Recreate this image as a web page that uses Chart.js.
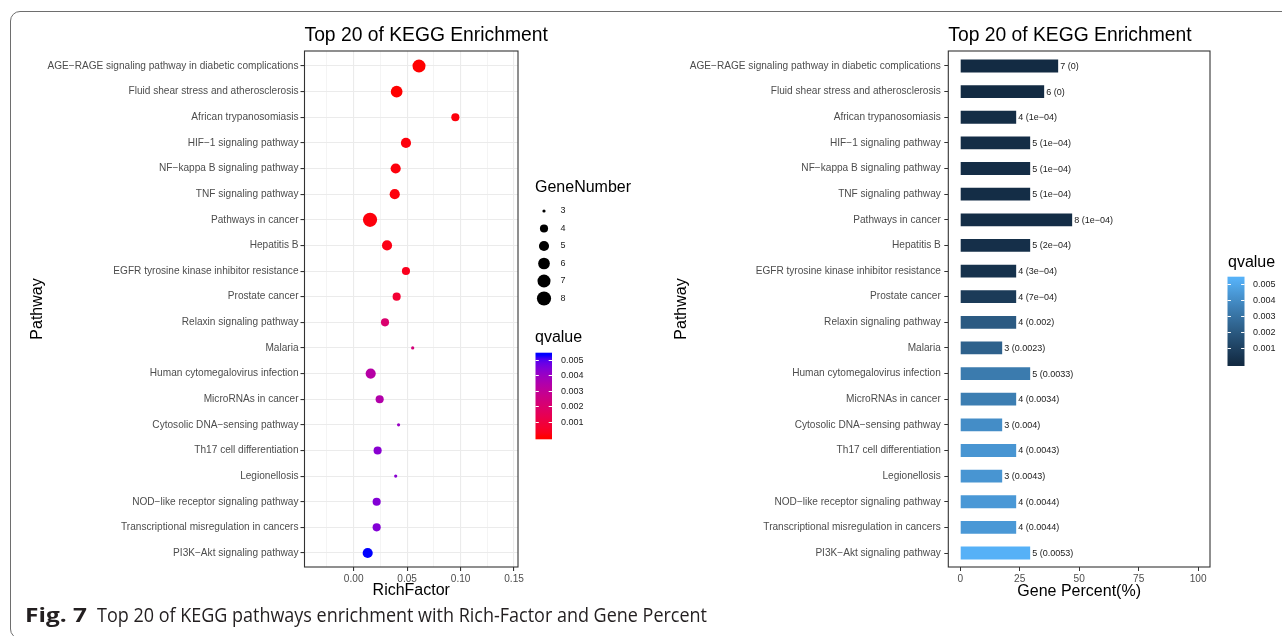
<!DOCTYPE html>
<html>
<head>
<meta charset="utf-8">
<script src="https://cdn.jsdelivr.net/npm/chart.js@4.4.1/dist/chart.umd.min.js"></script>
<style>
  html, body { margin: 0; padding: 0; background: #fff; }
  #page { position: relative; width: 1282px; height: 636px; overflow: hidden; background: #fff; }
  #frame { position: absolute; left: 10px; top: 11px; width: 1300px; height: 628px; box-sizing: border-box;
           border: 1.4px solid #6e6e6e; border-radius: 10px; }
  canvas { position: absolute; top: 0; }
  #richChart { left: 0; }
  #percentChart { left: 640px; }
  .cap { position: absolute; top: 605px; font-family: "Open Sans", "Noto Sans", sans-serif; font-size: 20px;
         line-height: 20px; color: #231f20; white-space: nowrap; transform-origin: 0 0; }
</style>
</head>
<body>
<div id="page">
<div id="frame"></div>
<canvas id="richChart" width="640" height="636"></canvas>
<canvas id="percentChart" width="642" height="636"></canvas>
<div class="cap" id="capFig" style="left:25px; font-weight:700;">Fig. 7</div>
<div class="cap" id="capText" style="left:97px;">Top 20 of KEGG pathways enrichment with Rich-Factor and Gene Percent</div>
</div>
<script>
// ---- data ----
const pathways = [
  "AGE\u2212RAGE signaling pathway in diabetic complications",
  "Fluid shear stress and atherosclerosis",
  "African trypanosomiasis",
  "HIF\u22121 signaling pathway",
  "NF\u2212kappa B signaling pathway",
  "TNF signaling pathway",
  "Pathways in cancer",
  "Hepatitis B",
  "EGFR tyrosine kinase inhibitor resistance",
  "Prostate cancer",
  "Relaxin signaling pathway",
  "Malaria",
  "Human cytomegalovirus infection",
  "MicroRNAs in cancer",
  "Cytosolic DNA\u2212sensing pathway",
  "Th17 cell differentiation",
  "Legionellosis",
  "NOD\u2212like receptor signaling pathway",
  "Transcriptional misregulation in cancers",
  "PI3K\u2212Akt signaling pathway"
];
const richFactor = [0.0611, 0.0402, 0.0951, 0.0489, 0.0393, 0.0384, 0.0153, 0.0312, 0.0489, 0.0402,
                    0.0293, 0.0552, 0.0159, 0.0243, 0.0420, 0.0224, 0.0393, 0.0215, 0.0215, 0.0131];
const geneNumber = [7, 6, 4, 5, 5, 5, 8, 5, 4, 4, 4, 3, 5, 4, 3, 4, 3, 4, 4, 5];
const qvalue = [0, 0, 1e-4, 1e-4, 1e-4, 1e-4, 1e-4, 2e-4, 3e-4, 7e-4,
                0.002, 0.0023, 0.0033, 0.0034, 0.004, 0.0043, 0.0043, 0.0044, 0.0044, 0.0053];
const geneTotal = 17;                       // genes in the query set (denominator of Gene Percent)
const richMajorTicks = [0, 0.05, 0.10, 0.15];
const richMinorTicks = [-0.025, 0.025, 0.075, 0.125];
const percentTicks = [0, 25, 50, 75, 100];
const qLegendTicks = [0.001, 0.002, 0.003, 0.004, 0.005];
const sizeLegendValues = [3, 4, 5, 6, 7, 8];

const genePercent = geneNumber.map(n => n / geneTotal * 100);

// ---- helpers ----
const FONT = '"Liberation Sans", Arial, Helvetica, sans-serif';
Chart.defaults.font.family = FONT;

function hexToRgb(h) { return [1, 3, 5].map(i => parseInt(h.slice(i, i + 2), 16)); }
function rgbToLab(rgb) {
  const lin = c => { c /= 255; return c <= 0.04045 ? c / 12.92 : Math.pow((c + 0.055) / 1.055, 2.4); };
  const [R, G, B] = rgb.map(lin);
  const X = (0.4124564 * R + 0.3575761 * G + 0.1804375 * B) / 0.95047;
  const Y = (0.2126729 * R + 0.7151522 * G + 0.0721750 * B);
  const Z = (0.0193339 * R + 0.1191920 * G + 0.9503041 * B) / 1.08883;
  const f = t => t > 0.008856 ? Math.cbrt(t) : (7.787 * t + 16 / 116);
  const fx = f(X), fy = f(Y), fz = f(Z);
  return [116 * fy - 16, 500 * (fx - fy), 200 * (fy - fz)];
}
function labToRgb(lab) {
  const [L, a, b] = lab;
  const fy = (L + 16) / 116, fx = fy + a / 500, fz = fy - b / 200;
  const finv = t => (t * t * t > 0.008856) ? t * t * t : (t - 16 / 116) / 7.787;
  const X = finv(fx) * 0.95047, Y = finv(fy), Z = finv(fz) * 1.08883;
  const R = 3.2404542 * X - 1.5371385 * Y - 0.4985314 * Z;
  const G = -0.9692660 * X + 1.8760108 * Y + 0.0415560 * Z;
  const B = 0.0556434 * X - 0.2040259 * Y + 1.0572252 * Z;
  const gam = c => { c = c <= 0.0031308 ? 12.92 * c : 1.055 * Math.pow(Math.max(c, 0), 1 / 2.4) - 0.055;
                     return Math.round(Math.min(1, Math.max(0, c)) * 255); };
  return `rgb(${gam(R)},${gam(G)},${gam(B)})`;
}
// two-colour gradient interpolated in CIELAB
function labRamp(lo, hi) {
  const A = rgbToLab(hexToRgb(lo)), B = rgbToLab(hexToRgb(hi));
  return t => { t = Math.min(1, Math.max(0, t)); return labToRgb(A.map((v, i) => v + (B[i] - v) * t)); };
}
const qMin = Math.min(...qvalue), qMax = Math.max(...qvalue);
const qNorm = q => (q - qMin) / (qMax - qMin);
const redBlue = labRamp('#FF0000', '#0000FF');
const navySky = labRamp('#132B43', '#56B1F7');

// point radius: area-proportional size scale (1..6) converted to pixels
const nMin = Math.min(...geneNumber), nMax = Math.max(...geneNumber);
function pointRadius(n) {
  const size = 1 + 5 * Math.sqrt((n - nMin) / (nMax - nMin));
  return 1.1 * size + 0.5;
}

// R-style number printing: scientific only when it is shorter
function fmtQ(q) {
  if (q === 0) return '0';
  const fixed = String(q);
  const [m, e] = q.toExponential().split('e');
  const ex = parseInt(e, 10);
  const sci = m + 'e' + (ex < 0 ? '-' : '+') + String(Math.abs(ex)).padStart(2, '0');
  return (sci.length < fixed.length ? sci : fixed).replace(/-/g, '\u2212');
}

// colour bar legend (ggplot-style, 20 bins)
function drawColourBar(ctx, x, top, w, h, ramp, labelX) {
  const nbin = 20;
  const step = (qMax - qMin) / (nbin - 1);
  const lo = qMin - step / 2, hi = qMax + step / 2;
  const bottom = top + h;
  const g = ctx.createLinearGradient(0, bottom, 0, top);
  g.addColorStop(0, ramp(0));
  for (let k = 0; k < nbin; k++) g.addColorStop((k + 0.5) / nbin, ramp(k / (nbin - 1)));
  g.addColorStop(1, ramp(1));
  ctx.fillStyle = g;
  ctx.fillRect(x, top, w, h);
  ctx.font = '9px ' + FONT;
  ctx.textAlign = 'left';
  ctx.textBaseline = 'middle';
  qLegendTicks.forEach(v => {
    const y = Math.round(bottom - (v - lo) / (hi - lo) * h) + 0.5;
    ctx.strokeStyle = '#ffffff';
    ctx.lineWidth = 1;
    ctx.beginPath();
    ctx.moveTo(x, y); ctx.lineTo(x + w / 5, y);
    ctx.moveTo(x + w - w / 5, y); ctx.lineTo(x + w, y);
    ctx.stroke();
    ctx.fillStyle = '#1a1a1a';
    ctx.fillText(String(v), labelX, y);
  });
}

// panel frame, title and legends
const panelDecor = {
  id: 'panelDecor',
  afterDatasetsDraw(chart, args, opts) {
    const { ctx, chartArea: a } = chart;
    ctx.save();
    ctx.strokeStyle = '#333333';
    ctx.lineWidth = 1.1;
    ctx.strokeRect(a.left, a.top, a.right - a.left, a.bottom - a.top);
    ctx.restore();
  },
  afterDraw(chart, args, opts) {
    const { ctx, chartArea: a } = chart;
    ctx.save();
    ctx.fillStyle = '#000';
    ctx.font = '19.3px ' + FONT;
    ctx.textAlign = 'left';
    ctx.textBaseline = 'alphabetic';
    ctx.fillText(opts.title, a.left, 41);
    if (opts.drawLegend) opts.drawLegend(ctx);
    ctx.restore();
  }
};

function legendTitle(ctx, text, x, y) {
  ctx.fillStyle = '#000';
  ctx.font = '16px ' + FONT;
  ctx.textAlign = 'left';
  ctx.textBaseline = 'alphabetic';
  ctx.fillText(text, x, y);
}

// count and q-value printed at the end of each bar
const barLabels = {
  id: 'barLabels',
  afterDatasetsDraw(chart) {
    const { ctx } = chart;
    const meta = chart.getDatasetMeta(0);
    ctx.save();
    ctx.font = '9px ' + FONT;
    ctx.fillStyle = '#1a1a1a';
    ctx.textAlign = 'left';
    ctx.textBaseline = 'middle';
    meta.data.forEach((el, i) => {
      ctx.fillText(`${geneNumber[i]} (${fmtQ(qvalue[i])})`, el.x + 2, el.y + 0.5);
    });
    ctx.restore();
  }
};

const tickFont = { size: 10.1, family: FONT };
const axisTitleFont = { size: 16, family: FONT };

// shared pathway axis: one row per pathway, first pathway at the top
function pathwayAxis(width, labelPad) {
  return {
    type: 'linear',
    reverse: true,
    offset: false,
    min: -0.585, max: 19.546,
    afterBuildTicks(scale) { scale.ticks = pathways.map((p, i) => ({ value: i })); },
    afterFit(scale) { scale.width = width; },
    ticks: {
      autoSkip: false, padding: labelPad, color: '#4d4d4d', font: tickFont,
      callback(v) { return pathways[v]; }
    },
    border: { display: false },
    title: { display: true, text: 'Pathway', color: '#000', font: axisTitleFont, padding: { top: 0, bottom: 0 } }
  };
}

// ---- RichFactor bubble chart ----
const richY = pathwayAxis(276.5, 2);
richY.grid = { color: '#ebebeb', lineWidth: 1.1, tickColor: '#333333', tickLength: 4, offset: false };

new Chart(document.getElementById('richChart'), {
  type: 'bubble',
  data: {
    datasets: [{
      data: pathways.map((p, i) => ({ x: richFactor[i], y: i, r: pointRadius(geneNumber[i]) })),
      backgroundColor: qvalue.map(q => redBlue(qNorm(q))),
      borderWidth: 0,
      hoverBorderWidth: 0
    }]
  },
  options: {
    responsive: false,
    devicePixelRatio: 1,
    animation: false,
    events: [],
    clip: false,
    layout: { padding: { left: 28, top: 51, right: 122, bottom: 34 } },
    plugins: {
      legend: { display: false },
      tooltip: { enabled: false },
      panelDecor: {
        title: 'Top 20 of KEGG Enrichment',
        drawLegend(ctx) {
          legendTitle(ctx, 'GeneNumber', 535, 192);
          sizeLegendValues.forEach((n, k) => {
            const y = 211 + k * 17.5;
            ctx.fillStyle = '#000';
            ctx.beginPath();
            ctx.arc(544, y, pointRadius(n), 0, Math.PI * 2);
            ctx.fill();
            ctx.font = '9px ' + FONT;
            ctx.fillStyle = '#1a1a1a';
            ctx.textBaseline = 'middle';
            ctx.fillText(String(n), 560.5, y);
          });
          legendTitle(ctx, 'qvalue', 535, 342);
          drawColourBar(ctx, 535.5, 352.7, 16.5, 86.6, redBlue, 561);
        }
      }
    },
    scales: {
      x: {
        type: 'linear',
        min: -0.046, max: 0.1537,
        afterBuildTicks(scale) {
          scale.ticks = [...richMinorTicks.map(v => ({ value: v, minor: true })),
                         ...richMajorTicks.map(v => ({ value: v, minor: false }))]
                        .sort((a, b) => a.value - b.value);
        },
        afterFit(scale) { scale.height = 35; },
        ticks: {
          autoSkip: false, maxRotation: 0, padding: 2, color: '#4d4d4d', font: tickFont,
          callback(v, i, ticks) { return ticks[i].minor ? '' : v.toFixed(2); }
        },
        grid: {
          color: '#ebebeb',
          lineWidth: c => (c.tick && c.tick.minor) ? 0.55 : 1.1,
          tickColor: c => (c.tick && c.tick.minor) ? 'rgba(0,0,0,0)' : '#333333',
          tickLength: 4,
          drawOnChartArea: true
        },
        border: { display: false },
        title: { display: true, text: 'RichFactor', color: '#000', font: axisTitleFont, padding: { top: 0, bottom: 1.5 } }
      },
      y: richY
    }
  },
  plugins: [panelDecor]
});

// ---- Gene Percent bar chart ----
const percentY = pathwayAxis(308.3 - 32.4, 3.5);
percentY.grid = { drawOnChartArea: false, offset: false, tickColor: '#333333', tickLength: 4 };

new Chart(document.getElementById('percentChart'), {
  type: 'bar',
  data: {
    datasets: [{
      data: pathways.map((p, i) => ({ x: genePercent[i], y: i })),
      backgroundColor: qvalue.map(q => navySky(qNorm(q))),
      borderWidth: 0,
      barPercentage: 0.5,
      categoryPercentage: 1
    }]
  },
  options: {
    indexAxis: 'y',
    responsive: false,
    devicePixelRatio: 1,
    animation: false,
    events: [],
    layout: { padding: { left: 32.4, top: 51, right: 72, bottom: 34 } },
    plugins: {
      legend: { display: false },
      tooltip: { enabled: false },
      panelDecor: {
        title: 'Top 20 of KEGG Enrichment',
        drawLegend(ctx) {
          legendTitle(ctx, 'qvalue', 588, 267);
          drawColourBar(ctx, 587.5, 276.7, 17, 89.3, navySky, 613);
        }
      }
    },
    scales: {
      x: {
        type: 'linear',
        min: -5, max: 105,
        afterBuildTicks(scale) { scale.ticks = percentTicks.map(v => ({ value: v })); },
        afterFit(scale) { scale.height = 35; },
        ticks: { autoSkip: false, maxRotation: 0, padding: 2, color: '#4d4d4d', font: tickFont,
                 callback(v) { return String(v); } },
        grid: { drawOnChartArea: false, tickColor: '#333333', tickLength: 4 },
        border: { display: false },
        title: { display: true, text: 'Gene Percent(%)', color: '#000', font: axisTitleFont, padding: { top: 0, bottom: 0.5 } }
      },
      y: percentY
    }
  },
  plugins: [panelDecor, barLabels]
});

// caption: fit each run of text to its measured span
function fitCaption() {
  [['capFig', 62], ['capText', 610]].forEach(([id, target]) => {
    const el = document.getElementById(id);
    el.style.transform = 'none';
    const w = el.getBoundingClientRect().width;
    if (w > 0) el.style.transform = `scaleX(${target / w})`;
  });
}
fitCaption();
if (document.fonts && document.fonts.ready) document.fonts.ready.then(fitCaption);
</script>
</body>
</html>
